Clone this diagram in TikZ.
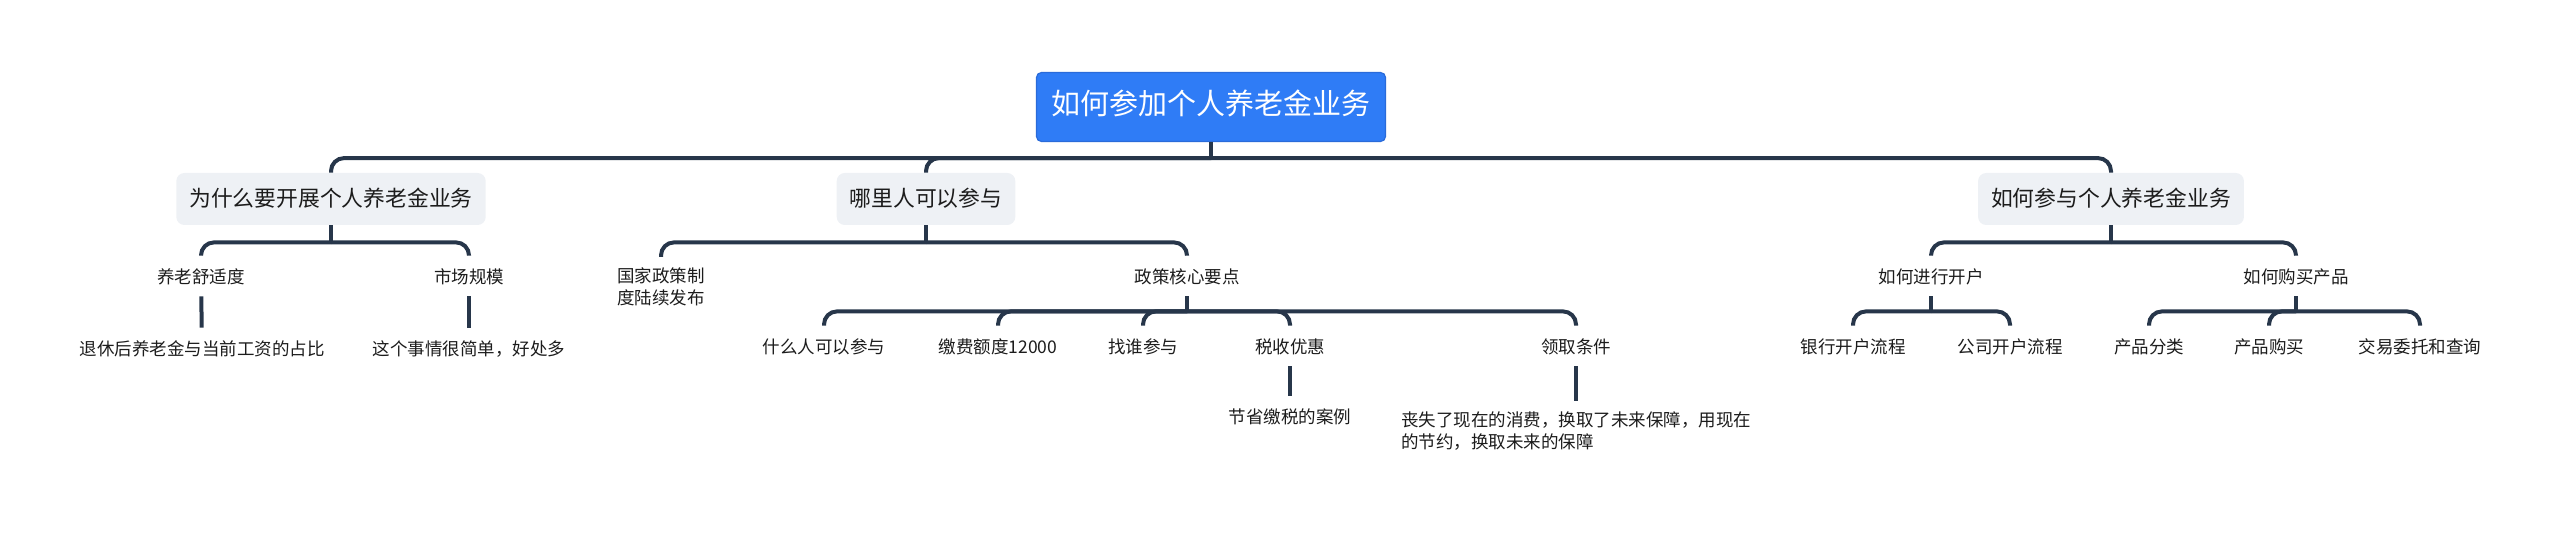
\documentclass[tikz,border=0pt]{standalone}
\usepackage{fontspec}
\setmainfont{Noto Sans CJK SC}
\usepackage{tikz}
\usepackage{xcolor}
\definecolor{rootblue}{HTML}{2F7CF6}
\definecolor{rootedge}{HTML}{2A6BD9}
\definecolor{topicgray}{HTML}{EEF1F5}
\definecolor{linknavy}{HTML}{27364A}
\definecolor{inkdark}{HTML}{1C1C1C}

\begin{document}
\begin{tikzpicture}[x=0.5pt,y=-0.5pt,
  rootbox/.style={draw=rootedge,fill=rootblue,text=white,rounded corners=2.5pt,line width=0.6pt,
    font=\fontsize{14.5pt}{17pt}\selectfont,minimum height=34.5pt,inner xsep=7.5pt,
    text height=0.88em,text depth=0.12em},
  topicbox/.style={fill=topicgray,text=inkdark,rounded corners=4pt,
    font=\fontsize{10.9pt}{13pt}\selectfont,minimum height=26pt,inner xsep=6.5pt,
    text height=0.88em,text depth=0.12em},
  leaf/.style={text=inkdark,font=\fontsize{8.75pt}{11.25pt}\selectfont,inner xsep=2pt,inner ysep=5pt,
    text height=0.88em,text depth=0.12em},
  note/.style={text=inkdark,font=\fontsize{8.75pt}{11.25pt}\selectfont,inner xsep=2pt,inner ysep=5pt,
    align=left,anchor=north},
  link/.style={draw=linknavy,line width=2pt,rounded corners=6.5pt}]
  \useasboundingbox (0,0) rectangle (2560,533);

  % root and main topics
  \node[rootbox] (root) at (1211,107) {如何参加个人养老金业务};
  \node[topicbox] (why) at (331,199) {为什么要开展个人养老金业务};
  \node[topicbox] (who) at (926,199) {哪里人可以参与};
  \node[topicbox] (how) at (2111,199) {如何参与个人养老金业务};

  % why
  \node[leaf] (comfort) at (201,276) {养老舒适度};
  \node[leaf] (market) at (469,276) {市场规模};
  \node[leaf] (ratio) at (202,348) {退休后养老金与当前工资的占比};
  \node[leaf] (simple) at (469,348) {这个事情很简单，好处多};

  % who
  \node[note] (policy) at (661,257) {国家政策制\\度陆续发布};
  \node[leaf] (core) at (1187,276) {政策核心要点};
  \node[leaf] (whom) at (824,346) {什么人可以参与};
  \node[leaf] (limit) at (998,346) {缴费额度12000};
  \node[leaf] (where) at (1143,346) {找谁参与};
  \node[leaf] (tax) at (1290,346) {税收优惠};
  \node[leaf] (claim) at (1576,346) {领取条件};
  \node[leaf] (taxcase) at (1290,416) {节省缴税的案例};
  \node[note] (claimnote) at (1576,401) {丧失了现在的消费，换取了未来保障，用现在\\的节约，换取未来的保障};

  % how
  \node[leaf] (account) at (1931,276) {如何进行开户};
  \node[leaf] (buy) at (2296,276) {如何购买产品};
  \node[leaf] (bank) at (1853,346) {银行开户流程};
  \node[leaf] (firm) at (2010,346) {公司开户流程};
  \node[leaf] (kinds) at (2149,346) {产品分类};
  \node[leaf] (purchase) at (2269,346) {产品购买};
  \node[leaf] (trade) at (2420,346) {交易委托和查询};

  % connectors
  \draw[link] (root.south) -- ++(0,16) coordinate (rootfork);
  \foreach \c in {why,who,how} \draw[link] (rootfork) -| (\c.north);
  \draw[link] (why.south) -- ++(0,17) coordinate (whyfork);
  \foreach \c in {comfort,market} \draw[link] (whyfork) -| (\c.north);
  \draw[link] (who.south) -- ++(0,17) coordinate (whofork);
  \foreach \c in {policy,core} \draw[link] (whofork) -| (\c.north);
  \draw[link] (core.south) -- ++(0,15) coordinate (corefork);
  \foreach \c in {whom,limit,where,tax,claim} \draw[link] (corefork) -| (\c.north);
  \draw[link] (how.south) -- ++(0,17) coordinate (howfork);
  \foreach \c in {account,buy} \draw[link] (howfork) -| (\c.north);
  \draw[link] (account.south) -- ++(0,15) coordinate (accountfork);
  \foreach \c in {bank,firm} \draw[link] (accountfork) -| (\c.north);
  \draw[link] (buy.south) -- ++(0,15) coordinate (buyfork);
  \foreach \c in {kinds,purchase,trade} \draw[link] (buyfork) -| (\c.north);
  \draw[link] (comfort) -- (ratio);
  \draw[link] (market) -- (simple);
  \draw[link] (tax) -- (taxcase);
  \draw[link] (claim.south) -- (claim.south |- claimnote.north);
\end{tikzpicture}
\end{document}
